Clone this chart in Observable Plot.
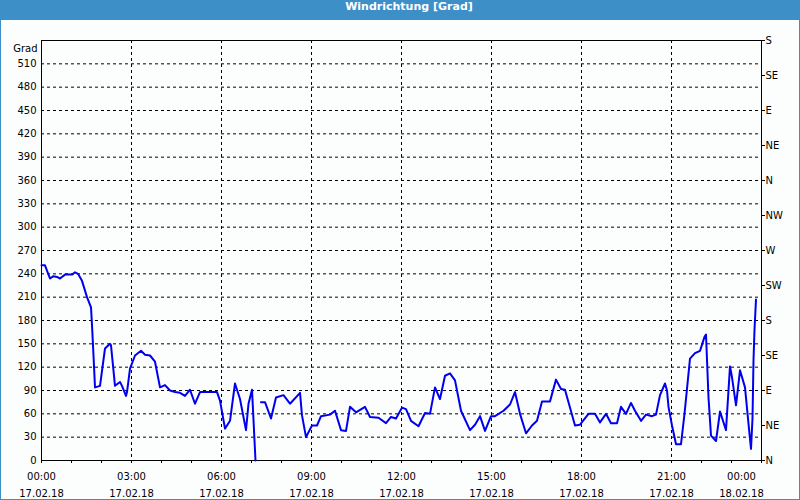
<!DOCTYPE html>
<html>
<head>
<meta charset="utf-8">
<script src="https://cdn.jsdelivr.net/npm/d3@7"></script>
<script src="https://cdn.jsdelivr.net/npm/@observablehq/plot@0.6"></script>
<style>
  html, body { margin: 0; padding: 0; background: #ffffff; }
  #frame { width: 800px; height: 500px; box-sizing: border-box; border: 1px solid #3c8fc7; border-top: none; background: #fcfefd; overflow: hidden; }
  #title { height: 20px; line-height: 20px; background: #3c8fc7; color: #ffffff; font: bold 11px "DejaVu Sans", sans-serif; text-align: center; padding-left: 18px; margin: 0 -1px; }
  #chart svg { display: block; }
</style>
</head>
<body>
<div id="frame">
  <div id="title">Windrichtung [Grad]</div>
  <div id="chart"></div>
</div>
<script>
// Wind direction readings, 17.02.18 (time of day, degrees). null = missing reading
const times = ["00:00","00:07","00:17","00:24","00:31","00:37","00:47","01:01","01:07","01:13","01:21","01:31","01:39","01:41","01:44","01:47","01:57","02:07","02:17","02:19","02:27","02:37","02:41","02:49","02:51","02:57","03:07","03:19","03:27","03:37","03:47","03:57","04:07","04:17","04:27","04:37","04:47","04:57","05:07","05:17","05:51","05:57","06:07","06:17","06:27","06:37","06:49","06:54","07:01","07:08","07:11","07:19","07:27","07:39","07:49","08:04","08:17","08:37","08:41","08:49","09:01","09:11","09:19","09:37","09:47","09:59","10:09","10:17","10:29","10:47","10:57","11:14","11:29","11:39","11:49","12:01","12:09","12:19","12:34","12:47","12:57","13:07","13:17","13:27","13:37","13:47","13:59","14:17","14:27","14:37","14:47","14:59","15:07","15:24","15:37","15:47","15:57","16:09","16:21","16:31","16:41","16:57","17:09","17:19","17:27","17:47","17:57","18:14","18:27","18:37","18:49","18:59","19:11","19:19","19:29","19:39","19:47","19:59","20:09","20:21","20:29","20:37","20:47","20:51","20:54","21:01","21:09","21:19","21:26","21:37","21:47","21:57","22:06","22:09","22:14","22:19","22:29","22:37","22:49","22:57","23:01","23:09","23:17","23:27","23:34","23:39","23:42","23:44","23:46","23:49"];
const values = [251,251,234,237,236,234,239,239,242,240,231,210,197,174,135,94,96,144,150,148,96,101,96,83,88,118,135,141,136,135,127,94,97,90,88,87,83,91,73,88,88,77,41,51,99,79,39,73,91,0,null,75,75,54,81,84,73,87,58,30,45,45,57,59,64,39,38,69,62,69,56,55,48,56,54,68,66,51,44,61,60,94,79,109,112,103,64,39,46,57,38,57,57,64,72,88,60,35,45,51,76,76,104,92,91,45,46,60,60,49,60,48,48,69,60,74,64,51,59,57,59,84,99,90,69,45,21,21,60,131,138,141,159,162,81,32,25,63,39,121,107,71,116,94,47,15,54,129,168,207];

const degreeTicks = [0,30,60,90,120,150,180,210,240,270,300,330,360,390,420,450,480,510];
const compassTicks = [0,45,90,135,180,225,270,315,360,405,450,495,540];
const compassLabels = ["N","NE","E","SE","S","SW","W","NW","N","NE","E","SE","S"];
const hourLabels = ["00:00","03:00","06:00","09:00","12:00","15:00","18:00","21:00","00:00"];
const dateLabels = ["17.02.18","17.02.18","17.02.18","17.02.18","17.02.18","17.02.18","17.02.18","17.02.18","18.02.18"];

const at = (hhmm) => { const [h, m] = hhmm.split(":").map(Number); return new Date(Date.UTC(2018, 1, 17, h, m)); };
const data = times.map((t, i) => ({date: at(t), value: values[i]}));
const start = new Date(Date.UTC(2018, 1, 17, 0, 0));
const end = new Date(Date.UTC(2018, 1, 18, 0, 0));
const hourly = d3.utcHour.range(start, new Date(+end + 1));
const major = hourly.filter((d, i) => i % 3 === 0);
const majorLabels = major.map((d, i) => ({date: d, text: hourLabels[i] + "\n" + dateLabels[i]}));

const font = '"DejaVu Sans", sans-serif';
const chart = Plot.plot({
  width: 798,
  height: 480,
  marginLeft: 40,
  marginRight: 38,
  marginTop: 20,
  marginBottom: 40,
  style: {fontFamily: font, fontSize: "10px", background: "transparent", color: "#000"},
  x: {type: "utc", domain: [start, end]},
  y: {domain: [0, 540]},
  marks: [
    Plot.gridY(degreeTicks.slice(1), {stroke: "#000", strokeOpacity: 1, strokeDasharray: "3,3"}),
    Plot.gridX(major.slice(1, -1), {stroke: "#000", strokeOpacity: 1, strokeDasharray: "3,3"}),
    Plot.frame({stroke: "#000"}),
    Plot.axisY(degreeTicks, {anchor: "left", tickSize: 0, tickPadding: 5, label: null, fill: "#000"}),
    Plot.axisY(compassTicks, {anchor: "right", tickSize: 3, tickPadding: 1, label: null, fill: "#000",
      tickFormat: d => compassLabels[compassTicks.indexOf(d)]}),
    Plot.axisX(hourly, {anchor: "bottom", tickSize: 3, tickFormat: () => "", label: null}),
    Plot.text(majorLabels.slice(0, -1), {x: "date", text: "text", frameAnchor: "bottom", lineAnchor: "top", dy: 8, lineHeight: 1.65, fill: "#000"}),
    Plot.text(majorLabels.slice(-1), {x: "date", text: "text", frameAnchor: "bottom", lineAnchor: "top", dy: 8, dx: -20, lineHeight: 1.65, fill: "#000"}),
    Plot.text(["Grad"], {frameAnchor: "top-left", textAnchor: "end", dx: -4, dy: 4, fill: "#000"}),
    Plot.line(data, {x: "date", y: "value", stroke: "#0000ee", strokeWidth: 2, curve: "linear"})
  ]
});
document.getElementById("chart").appendChild(chart);
</script>
</body>
</html>
